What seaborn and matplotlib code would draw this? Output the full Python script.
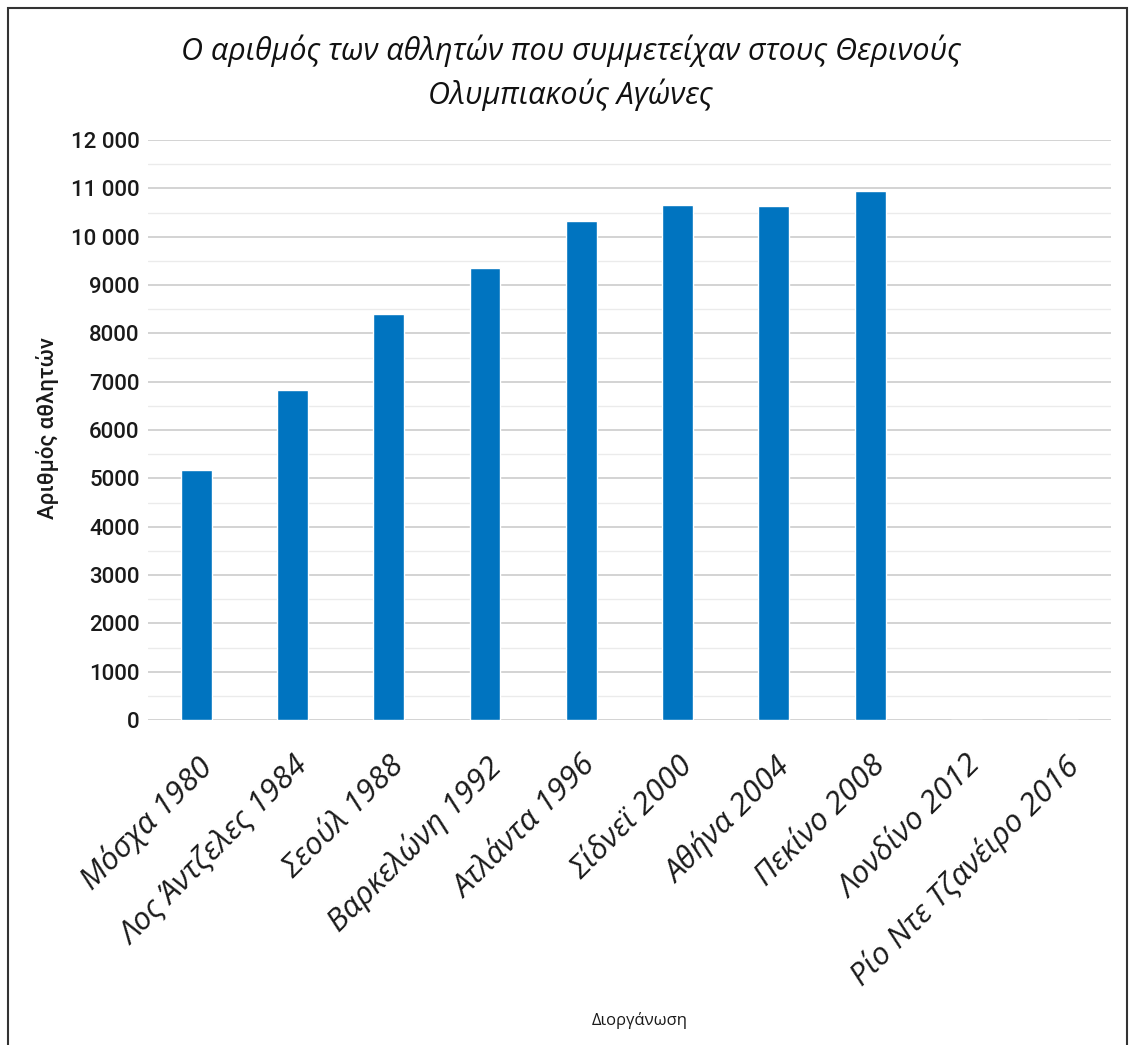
import matplotlib
matplotlib.use("Agg")
import matplotlib.pyplot as plt
import seaborn as sns
import pandas as pd
from matplotlib.patches import Rectangle
from matplotlib.ticker import FixedLocator, MultipleLocator

cities = ["Μόσχα 1980", "Λος Άντζελες 1984", "Σεούλ 1988", "Βαρκελώνη 1992",
          "Ατλάντα 1996", "Σίδνεϊ 2000", "Αθήνα 2004", "Πεκίνο 2008",
          "Λονδίνο 2012", "Ρίο Ντε Τζανέιρο 2016"]
athletes = [5179, 6829, 8391, 9356, 10318, 10651, 10625, 10942, 0, 0]
ytick_values = [0, 1000, 2000, 3000, 4000, 5000, 6000, 7000, 8000, 9000, 10000, 11000, 12000]
ytick_labels = ["0", "1000", "2000", "3000", "4000", "5000", "6000", "7000", "8000",
                "9000", "10 000", "11 000", "12 000"]

df = pd.DataFrame({"city": cities, "athletes": athletes})

sns.set_theme(style="white")
plt.rcParams['font.family'] = ['Open Sans', 'DejaVu Sans']

fig = plt.figure(figsize=(11.3, 10.45), dpi=100)
ax = fig.add_axes([0.131, 0.311, 0.852, 0.555])

sns.barplot(data=df, x="city", y="athletes", color="#0074C0", width=0.32,
            saturation=1, ax=ax, zorder=3)

ax.set_ylim(0, 12000)
ax.yaxis.set_major_locator(FixedLocator(ytick_values))
ax.set_yticklabels(ytick_labels, fontsize=16, fontweight="medium",
                   family=["Roboto", "DejaVu Sans"], color="#1a1a1a")
ax.yaxis.set_minor_locator(MultipleLocator(500))
ax.grid(axis="y", which="major", color="#d0d0d0", linewidth=1.3, zorder=0)
ax.grid(axis="y", which="minor", color="#ebebeb", linewidth=1.0, zorder=0)
ax.set_axisbelow(True)
for s in ax.spines.values():
    s.set_visible(False)
ax.tick_params(axis="y", length=0, pad=6)
ax.tick_params(axis="x", length=0, pad=22)

ax.set_xticks(range(len(cities)))
ax.set_xticklabels(cities, rotation=45, ha="right", rotation_mode="anchor",
                   fontsize=22.5, style="italic", color="#1a1a1a")
ax.set_xlim(-0.5, len(cities) - 0.5)

ax.set_xlabel("")
ax.set_ylabel("")
fig.text(0.042, 0.59, "Αριθμός αθλητών", rotation=90, ha="center", va="center",
         fontsize=16, fontweight="medium", family=["Roboto", "DejaVu Sans"],
         color="#1a1a1a")
fig.text(0.566, 0.023, "Διοργάνωση", ha="center", va="center", fontsize=12,
         color="#1a1a1a")
fig.text(0.505, 0.93, "Ο αριθμός των αθλητών που συμμετείχαν στους Θερινούς\nΟλυμπιακούς Αγώνες",
         ha="center", va="center", fontsize=22, style="italic", linespacing=1.45,
         color="#111111")

fig.patches.append(Rectangle((0.007, -0.01), 0.99, 1.002, transform=fig.transFigure,
                             fill=False, edgecolor="#333333", linewidth=1.5))

fig.savefig("out.png", dpi=100, facecolor="white")
